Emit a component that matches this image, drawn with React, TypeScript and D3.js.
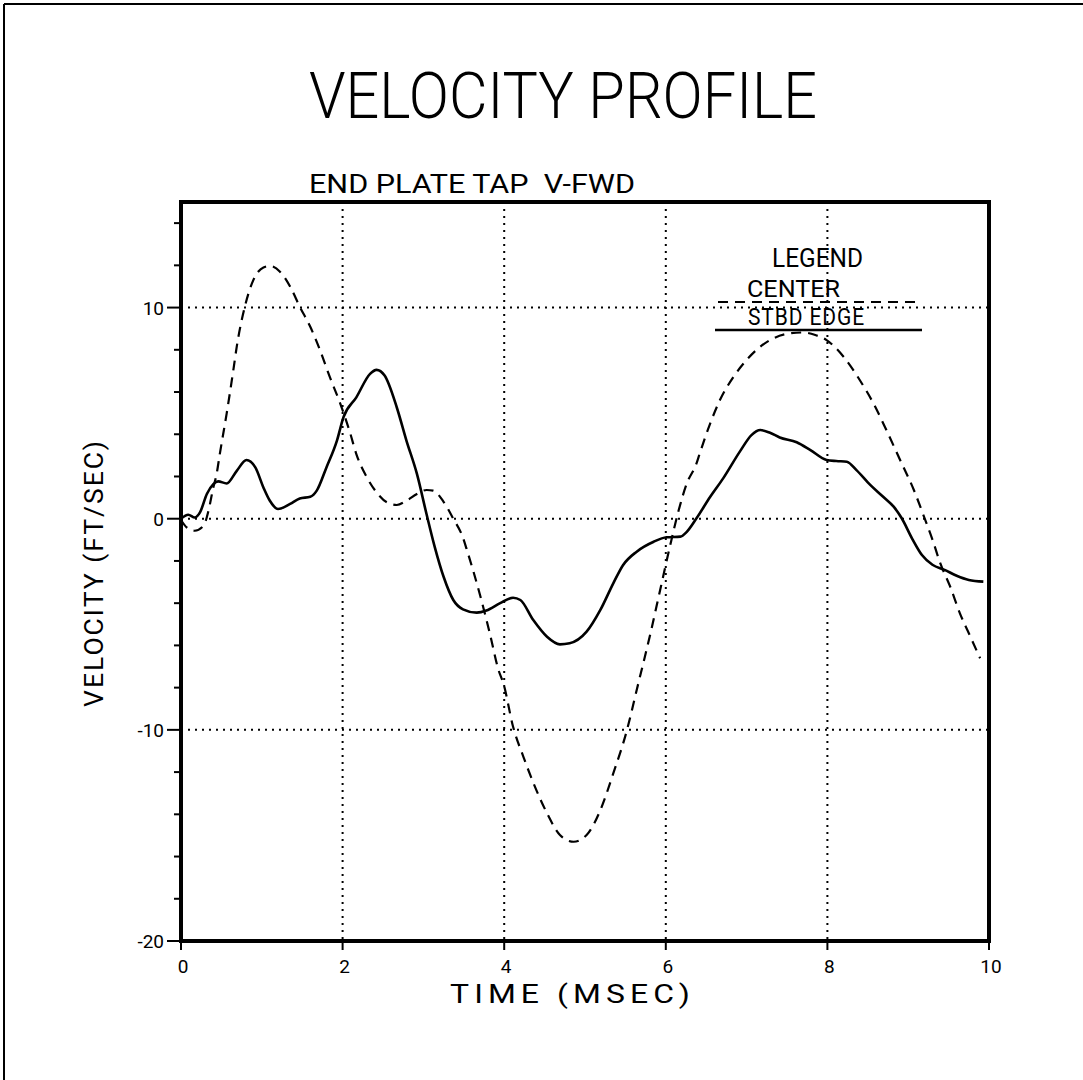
import React from "react";
import * as d3 from "d3";

// ---- data ----
const stbdTime = [0, 0.09, 0.17, 0.235, 0.32, 0.4, 0.46, 0.565, 0.69, 0.81, 0.92, 1.02, 1.1, 1.2, 1.35, 1.47, 1.6, 1.68, 1.8, 1.93, 2.01, 2.17, 2.34, 2.42, 2.52, 2.67, 2.79, 2.92, 3.04, 3.14, 3.25, 3.37, 3.49, 3.66, 3.78, 3.95, 4.11, 4.2, 4.36, 4.53, 4.69, 4.81, 5.02, 5.19, 5.35, 5.47, 5.64, 5.85, 6.01, 6.18, 6.26, 6.38, 6.55, 6.71, 6.92, 7.06, 7.17, 7.29, 7.41, 7.62, 7.79, 7.99, 8.11, 8.24, 8.36, 8.53, 8.69, 8.82, 8.92, 9.05, 9.17, 9.3, 9.45, 9.6, 9.75, 9.93];
const stbdVel = [0, 0.19, 0.06, 0.3, 1.17, 1.64, 1.77, 1.67, 2.27, 2.78, 2.43, 1.48, 0.85, 0.46, 0.7, 0.96, 1.04, 1.33, 2.43, 3.7, 4.8, 5.75, 6.86, 7.05, 6.78, 5.28, 3.7, 2.12, 0.2, -1.33, -2.75, -3.85, -4.29, -4.45, -4.35, -4.0, -3.74, -3.85, -4.8, -5.59, -5.95, -5.9, -5.35, -4.32, -3.06, -2.2, -1.56, -1.09, -0.88, -0.85, -0.62, 0.02, 1.04, 1.91, 3.2, 3.96, 4.2, 4.07, 3.85, 3.62, 3.25, 2.78, 2.73, 2.7, 2.3, 1.6, 1.04, 0.57, 0.02, -0.95, -1.72, -2.18, -2.42, -2.7, -2.9, -2.98];

const centerTime = [0, 0.07, 0.17, 0.28, 0.34, 0.4, 0.44, 0.48, 0.565, 0.65, 0.69, 0.79, 0.895, 1.02, 1.1, 1.225, 1.35, 1.47, 1.6, 1.72, 1.84, 1.97, 2.09, 2.17, 2.3, 2.42, 2.55, 2.67, 2.79, 2.92, 3.04, 3.12, 3.25, 3.37, 3.49, 3.54, 3.7, 3.82, 3.93, 3.99, 4.11, 4.24, 4.36, 4.53, 4.69, 4.86, 5.02, 5.19, 5.35, 5.52, 5.64, 5.81, 5.93, 6.05, 6.16, 6.26, 6.38, 6.42, 6.55, 6.67, 6.84, 7.0, 7.17, 7.33, 7.54, 7.7, 7.85, 7.99, 8.2, 8.4, 8.57, 8.73, 8.9, 9.07, 9.2, 9.31, 9.39, 9.52, 9.64, 9.77, 9.89];
const centerVel = [-0.06, -0.41, -0.57, -0.33, 0.38, 1.48, 2.1, 3.06, 4.98, 7.1, 8.15, 10.04, 11.3, 11.9, 11.97, 11.7, 11.0, 10.04, 9.09, 7.99, 6.73, 5.46, 4.1, 3.06, 1.96, 1.25, 0.77, 0.65, 0.85, 1.17, 1.36, 1.33, 0.8, 0.0, -0.9, -1.5, -3.6, -5.4, -7.17, -7.8, -9.85, -11.3, -12.5, -13.95, -14.98, -15.3, -14.98, -13.8, -12.06, -10.0, -8.11, -5.43, -3.38, -1.33, 0.41, 1.67, 2.62, 3.09, 4.52, 5.62, 6.73, 7.52, 8.15, 8.54, 8.78, 8.82, 8.7, 8.46, 7.67, 6.57, 5.46, 4.2, 2.78, 1.36, 0.05, -1.1, -2.04, -3.22, -4.48, -5.59, -6.61];

const xTicks = [0, 2, 4, 6, 8, 10];
const xGrid = [2, 4, 6, 8];
const yMajor = [-20, -10, 0, 10];
const yGrid = [-10, 0, 10];
const yMinor = [-18, -16, -14, -12, -8, -6, -4, -2, 2, 4, 6, 8, 12, 14];

const titleText = "VELOCITY PROFILE";
const subtitleText = "END PLATE TAP  V-FWD";
const xLabel = "TIME (MSEC)";
const yLabel = "VELOCITY (FT/SEC)";
const legendTitle = "LEGEND";
const legendCenter = "CENTER";
const legendStbd = "STBD EDGE";

const FONT = "Roboto, 'DejaVu Sans', sans-serif";

export default function App() {
  const W = 1083, H = 1080;
  const x = d3.scaleLinear().domain([0, 10]).range([181, 989]);
  const y = d3.scaleLinear().domain([-20, 15]).range([941, 202]);

  const mk = (ts: number[], vs: number[]) =>
    d3
      .line<number>()
      .x((_, i) => x(ts[i]))
      .y((_, i) => y(vs[i]))
      .curve(d3.curveMonotoneX)(ts) || "";

  const stbdPath = mk(stbdTime, stbdVel);
  const centerPath = mk(centerTime, centerVel);

  return (
    <svg
      width={W}
      height={H}
      viewBox={`0 0 ${W} ${H}`}
      style={{ position: "absolute", left: 0, top: 0, background: "#fff" }}
    >
      <rect x={0} y={0} width={W} height={H} fill="#fff" />
      {/* page border (top and left) */}
      <line x1={4} y1={4} x2={W} y2={4} stroke="#000" strokeWidth={2} />
      <line x1={4} y1={4} x2={4} y2={H} stroke="#000" strokeWidth={2} />

      {/* title */}
      <text x={309} y={118} fontFamily={FONT} fontWeight={300} fontSize={64} textLength={508} lengthAdjust="spacingAndGlyphs" fill="#000">
        {titleText}
      </text>
      <text x={309} y={193} fontFamily={FONT} fontWeight={400} fontSize={26} textLength={326} lengthAdjust="spacingAndGlyphs" fill="#000" style={{ whiteSpace: "pre" }}>
        {subtitleText}
      </text>

      {/* grid */}
      {xGrid.map((t) => (
        <line key={"gx" + t} x1={x(t)} x2={x(t)} y1={y(15)} y2={y(-20)} stroke="#000" strokeWidth={2} strokeDasharray="2 5" />
      ))}
      {yGrid.map((v) => (
        <line key={"gy" + v} x1={x(0)} x2={x(10)} y1={y(v)} y2={y(v)} stroke="#000" strokeWidth={2} strokeDasharray="2 5" />
      ))}

      {/* curves */}
      <path d={centerPath} fill="none" stroke="#000" strokeWidth={2.2} strokeDasharray="10 7" />
      <path d={stbdPath} fill="none" stroke="#000" strokeWidth={2.6} />

      {/* frame */}
      <rect x={x(0)} y={y(15)} width={x(10) - x(0)} height={y(-20) - y(15)} fill="none" stroke="#000" strokeWidth={4} />

      {/* y ticks */}
      {yMinor.map((v) => (
        <line key={"ym" + v} x1={x(0) - 7} x2={x(0)} y1={y(v)} y2={y(v)} stroke="#000" strokeWidth={2} />
      ))}
      {yMajor.map((v) => (
        <g key={"yM" + v}>
          <line x1={x(0) - 14} x2={x(0)} y1={y(v)} y2={y(v)} stroke="#000" strokeWidth={2} />
          <text x={x(0) - 17} y={y(v) + 7} textAnchor="end" fontFamily={FONT} fontSize={19} fill="#000">
            {v}
          </text>
        </g>
      ))}

      {/* x ticks */}
      {xTicks.map((t) => (
        <g key={"xt" + t}>
          <line x1={x(t)} x2={x(t)} y1={y(-20)} y2={y(-20) + 9} stroke="#000" strokeWidth={2} />
          <text x={x(t) + 2} y={973} textAnchor="middle" fontFamily={FONT} fontSize={19} fill="#000">
            {t}
          </text>
        </g>
      ))}

      {/* axis labels */}
      <text x={450} y={1003} fontFamily={FONT} fontSize={25} letterSpacing={4} textLength={245} lengthAdjust="spacingAndGlyphs" fill="#000" style={{ whiteSpace: "pre" }}>
        {xLabel}
      </text>
      <text transform="translate(103,573) rotate(-90)" textAnchor="middle" fontFamily={FONT} fontSize={26} letterSpacing={2} textLength={268} lengthAdjust="spacingAndGlyphs" fill="#000">
        {yLabel}
      </text>

      {/* legend */}
      <text x={772} y={267} fontFamily={FONT} fontSize={26} textLength={91} lengthAdjust="spacingAndGlyphs" fill="#000">
        {legendTitle}
      </text>
      <text x={747} y={297} fontFamily={FONT} fontSize={24} textLength={93} lengthAdjust="spacingAndGlyphs" fill="#000">
        {legendCenter}
      </text>
      <line x1={718} x2={917} y1={302} y2={302} stroke="#000" strokeWidth={2.2} strokeDasharray="10 7" />
      <text x={748} y={325} fontFamily={FONT} fontSize={24} letterSpacing={1} textLength={117} lengthAdjust="spacingAndGlyphs" fill="#000" style={{ whiteSpace: "pre" }}>
        {legendStbd}
      </text>
      <line x1={715} x2={922} y1={330} y2={330} stroke="#000" strokeWidth={2.6} />
    </svg>
  );
}
